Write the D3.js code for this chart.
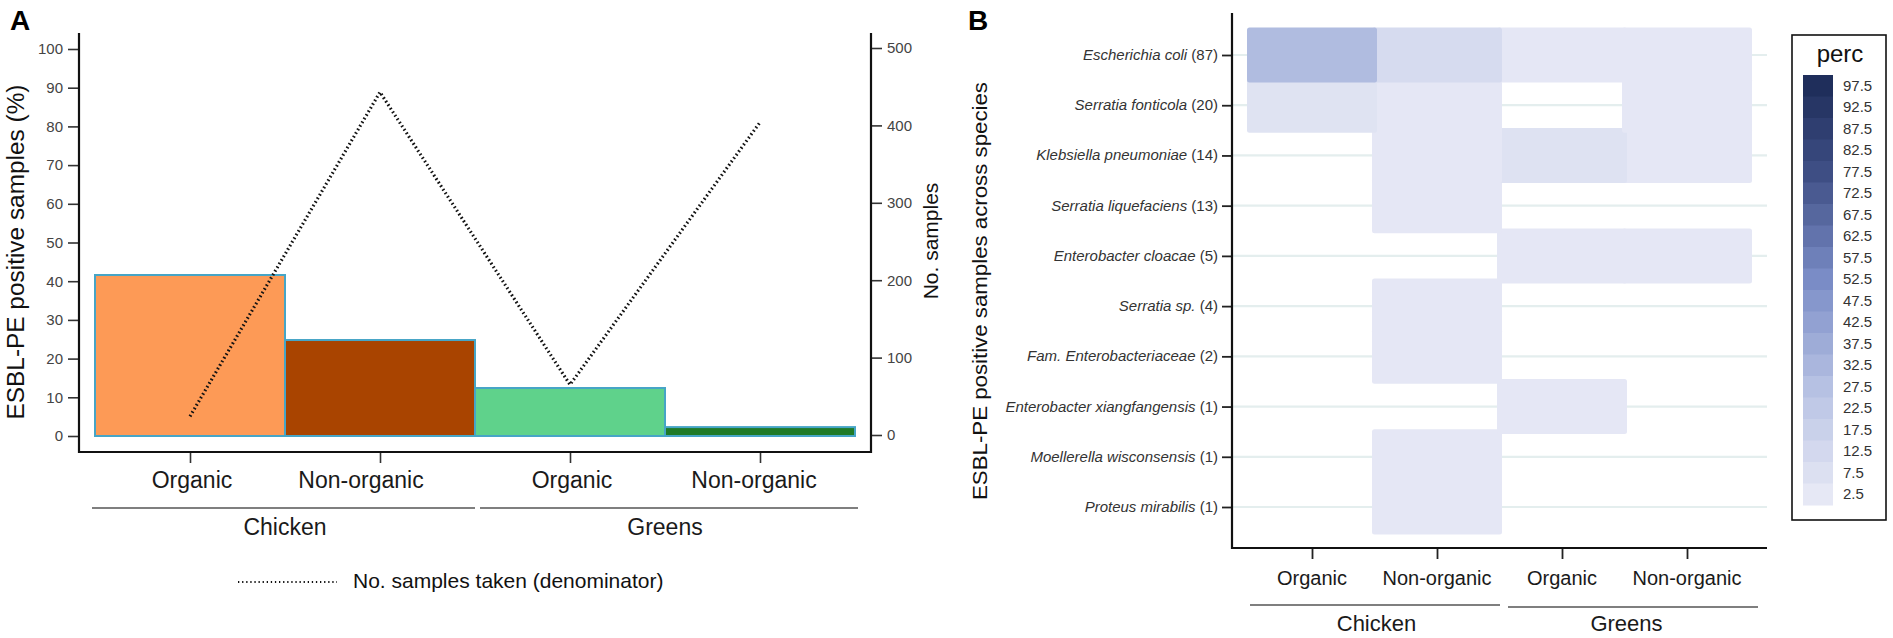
<!DOCTYPE html>
<html>
<head>
<meta charset="utf-8">
<script src="https://cdn.jsdelivr.net/npm/d3@7/dist/d3.min.js"></script>
<style>
  body { margin: 0; background: #fff; }
  svg { display: block; font-family: "Liberation Sans", Arial, sans-serif; }
</style>
</head>
<body>
<svg id="fig" width="1893" height="638"></svg>
<script>
// ---- panel A data
var barGroups = ["Chicken", "Chicken", "Greens", "Greens"];
var barTypes = ["Organic", "Non-organic", "Organic", "Non-organic"];
var barPercent = [41.6, 24.8, 12.4, 2.3];
var samplesTaken = [24, 443, 65, 404];
var leftTicks = [0, 10, 20, 30, 40, 50, 60, 70, 80, 90, 100];
var rightTicks = [0, 100, 200, 300, 400, 500];

// ---- panel B data
var species = ["Escherichia coli", "Serratia fonticola", "Klebsiella pneumoniae",
  "Serratia liquefaciens", "Enterobacter cloacae", "Serratia sp.",
  "Fam. Enterobacteriaceae", "Enterobacter xiangfangensis",
  "Moellerella wisconsensis", "Proteus mirabilis"];
var speciesCounts = [87, 20, 14, 13, 5, 4, 2, 1, 1, 1];
var heatCols = ["Chicken|Organic", "Chicken|Non-organic", "Greens|Organic", "Greens|Non-organic"];
// perc per species (rows) and column, null = no sample
var percValues = [
  [30, 11, 3, 3],
  [6, 3, null, 3],
  [null, 3, 6.5, 3],
  [null, 3, null, null],
  [null, null, 3, 3],
  [null, 3, null, null],
  [null, 3, null, null],
  [null, null, 3, null],
  [null, 3, null, null],
  [null, 3, null, null]
];
var legendBreaks = [97.5, 92.5, 87.5, 82.5, 77.5, 72.5, 67.5, 62.5, 57.5, 52.5,
  47.5, 42.5, 37.5, 32.5, 27.5, 22.5, 17.5, 12.5, 7.5, 2.5];

var barFill = ["#fd9a56", "#a94400", "#5fd28b", "#1f7a27"];

var svg = d3.select("#fig");

function drawPanelA(){
    var g = svg.append("g");
    var x = d3.scalePoint().domain(d3.range(4)).range([190, 760]);
    var yL = d3.scaleLinear().domain([0, 100]).range([436, 49]);
    var yR = d3.scaleLinear().domain([0, 500]).range([435, 48]);
    var bw = x.step();

    g.append("text").attr("x", 10).attr("y", 30)
        .style("font-size", "28px").style("font-weight", "bold").text("A");

    // bars
    g.selectAll("rect.bar").data(barPercent).enter().append("rect")
        .attr("class", "bar")
        .attr("x", function(d, i){ return x(i) - bw / 2; })
        .attr("width", bw)
        .attr("y", function(d){ return yL(d); })
        .attr("height", function(d){ return yL(0) - yL(d); })
        .attr("fill", function(d, i){ return barFill[i]; })
        .attr("stroke", "#46a5c6").attr("stroke-width", 2);

    // samples line
    var line = d3.line()
        .x(function(d, i){ return x(i); })
        .y(function(d){ return yR(d); });
    g.append("path").datum(samplesTaken)
        .attr("d", line).attr("fill", "none")
        .attr("stroke", "#111").attr("stroke-width", 3.2)
        .attr("stroke-dasharray", "1.6,2.6");

    // axes
    var axL = d3.axisLeft(yL).tickValues(leftTicks).tickSize(11).tickPadding(5);
    var gl = g.append("g").attr("transform", "translate(79,0)").call(axL);
    var axR = d3.axisRight(yR).tickValues(rightTicks).tickSize(11).tickPadding(5);
    var gr = g.append("g").attr("transform", "translate(871,0)").call(axR);
    var axB = d3.axisBottom(x).tickSize(11).tickFormat("");
    var gb = g.append("g").attr("transform", "translate(0,452)").call(axB);
    [gl, gr, gb].forEach(function(a){
        a.select(".domain").remove();
        a.selectAll(".tick line").attr("stroke", "#333").attr("stroke-width", 1.6);
        a.selectAll(".tick text").attr("fill", "#444").style("font-size", "15px")
            .style("font-family", "'Liberation Sans', Arial, sans-serif");
    });
    g.append("path").attr("d", "M79,33V452H871V33")
        .attr("fill", "none").attr("stroke", "#111").attr("stroke-width", 2.2);

    // category labels
    g.selectAll("text.cat").data(barTypes).enter().append("text")
        .attr("class", "cat")
        .attr("x", function(d, i){ return x(i) + (i === 1 ? -19 : (i === 3 ? -6 : 2)); })
        .attr("y", 488).attr("text-anchor", "middle")
        .style("font-size", "23px").attr("fill", "#1a1a1a").text(function(d){ return d; });

    var groups = ["Chicken", "Greens"];
    groups.forEach(function(grp, k){
        var idx = barGroups.map(function(b, i){ return b === grp ? i : -1; }).filter(function(i){ return i >= 0; });
        var x0 = x(idx[0]) - bw / 2, x1 = x(idx[idx.length - 1]) + bw / 2;
        g.append("line").attr("x1", x0 - 3 + k * 8).attr("x2", x1 + k * 3)
            .attr("y1", 508).attr("y2", 508)
            .attr("stroke", "#555").attr("stroke-width", 1.6);
        g.append("text").attr("x", (x(idx[0]) + x(idx[idx.length - 1])) / 2)
            .attr("y", 535).attr("text-anchor", "middle")
            .style("font-size", "23px").attr("fill", "#1a1a1a").text(grp);
    });

    // titles
    g.append("text").attr("transform", "translate(24,252) rotate(-90)")
        .attr("text-anchor", "middle").style("font-size", "23px")
        .attr("textLength", 335).attr("lengthAdjust", "spacingAndGlyphs")
        .attr("fill", "#111").text("ESBL-PE positive samples (%)");
    g.append("text").attr("transform", "translate(938,241) rotate(-90)")
        .attr("text-anchor", "middle").style("font-size", "21px")
        .attr("fill", "#111").text("No. samples");

    // legend
    g.append("line").attr("x1", 238).attr("x2", 337).attr("y1", 582).attr("y2", 582)
        .attr("stroke", "#111").attr("stroke-width", 2.2)
        .attr("stroke-dasharray", "1.3,2.8");
    g.append("text").attr("x", 353).attr("y", 588)
        .style("font-size", "21px").attr("fill", "#111")
        .text("No. samples taken (denominator)");
}

function drawPanelB(){
    var g = svg.append("g");
    var x = d3.scalePoint().domain(heatCols).range([1312, 1687]);
    var y = d3.scalePoint().domain(species).range([55, 507]);
    var tw = 130, th = 55;
    var color = d3.scaleLinear()
        .domain([2.5, 27.5, 52.5, 77.5, 97.5])
        .range(["#e6e8f5", "#b6c1e3", "#7a8cc6", "#3e4e84", "#1f2e5b"])
        .clamp(true);

    g.append("text").attr("x", 968).attr("y", 30)
        .style("font-size", "28px").style("font-weight", "bold").text("B");

    // grid
    g.selectAll("line.grid").data(species).enter().append("line")
        .attr("class", "grid")
        .attr("x1", 1232).attr("x2", 1767)
        .attr("y1", function(d){ return y(d); }).attr("y2", function(d){ return y(d); })
        .attr("stroke", "#e4eeee").attr("stroke-width", 2.2);

    // tiles (drawn from last to first so upper rows sit on top)
    var cells = [];
    percValues.forEach(function(row, r){
        row.forEach(function(v, c){
            if(v !== null) cells.push({sp: species[r], col: heatCols[c], v: v, r: r, c: c});
        });
    });
    cells.sort(function(a, b){ return (b.r - a.r) || (b.c - a.c); });
    g.selectAll("rect.tile").data(cells).enter().append("rect")
        .attr("class", "tile")
        .attr("x", function(d){ return x(d.col) - tw / 2; })
        .attr("y", function(d){ return y(d.sp) - th / 2; })
        .attr("width", tw).attr("height", th)
        .attr("rx", 2.5).attr("ry", 2.5)
        .attr("fill", function(d){ return color(d.v); });

    // axes
    var axL = d3.axisLeft(y).tickSize(10).tickPadding(4).tickFormat("");
    var gl = g.append("g").attr("transform", "translate(1232,0)").call(axL);
    var axB = d3.axisBottom(x).tickSize(11).tickFormat("");
    var gb = g.append("g").attr("transform", "translate(0,548)").call(axB);
    [gl, gb].forEach(function(a){
        a.select(".domain").remove();
        a.selectAll(".tick line").attr("stroke", "#222").attr("stroke-width", 1.8);
    });
    g.append("path").attr("d", "M1232,13V548H1767")
        .attr("fill", "none").attr("stroke", "#111").attr("stroke-width", 2.2);

    // row labels
    var lab = g.selectAll("text.row").data(species).enter().append("text")
        .attr("class", "row")
        .attr("x", 1218).attr("y", function(d){ return y(d) + 5; })
        .attr("text-anchor", "end").style("font-size", "15px").attr("fill", "#333");
    lab.append("tspan").style("font-style", "italic").text(function(d){ return d; });
    lab.append("tspan").text(function(d, i){ return " (" + speciesCounts[i] + ")"; });

    // column labels
    g.selectAll("text.col").data(heatCols).enter().append("text")
        .attr("class", "col")
        .attr("x", function(d){ return x(d); }).attr("y", 585)
        .attr("text-anchor", "middle").style("font-size", "20px").attr("fill", "#1a1a1a")
        .text(function(d){ return d.split("|")[1]; });

    var groups = ["Chicken", "Greens"];
    groups.forEach(function(grp, k){
        var cols = heatCols.filter(function(c){ return c.split("|")[0] === grp; });
        var a = x(cols[0]), b = x(cols[cols.length - 1]);
        g.append("line").attr("x1", a - 62 + k * 8).attr("x2", b + 63 + k * 8)
            .attr("y1", 605 + k * 2).attr("y2", 605 + k * 2)
            .attr("stroke", "#555").attr("stroke-width", 1.6);
        g.append("text").attr("x", (a + b) / 2 + 2).attr("y", 631)
            .attr("text-anchor", "middle").style("font-size", "22px").attr("fill", "#1a1a1a")
            .text(grp);
    });

    // y title
    g.append("text").attr("transform", "translate(987,291) rotate(-90)")
        .attr("text-anchor", "middle").style("font-size", "21px")
        .attr("textLength", 418).attr("lengthAdjust", "spacingAndGlyphs")
        .attr("fill", "#111").text("ESBL-PE positive samples across species");

    // legend
    var lg = g.append("g");
    lg.append("rect").attr("x", 1792).attr("y", 35).attr("width", 94).attr("height", 485)
        .attr("fill", "#fff").attr("stroke", "#111").attr("stroke-width", 1.6);
    lg.append("text").attr("x", 1840).attr("y", 62).attr("text-anchor", "middle")
        .style("font-size", "24px").attr("fill", "#111").text("perc");
    var ly = d3.scaleBand().domain(legendBreaks).range([75, 505]);
    lg.selectAll("rect.key").data(legendBreaks).enter().append("rect")
        .attr("class", "key")
        .attr("x", 1803).attr("width", 30)
        .attr("y", function(d){ return ly(d); }).attr("height", ly.bandwidth() + 0.5)
        .attr("fill", function(d){ return color(d); });
    lg.selectAll("text.key").data(legendBreaks).enter().append("text")
        .attr("class", "key")
        .attr("x", 1843).attr("y", function(d){ return ly(d) + ly.bandwidth() / 2 + 5; })
        .style("font-size", "15px").attr("fill", "#333")
        .text(function(d){ return d; });
}

drawPanelA();
drawPanelB();
</script>
</body>
</html>
